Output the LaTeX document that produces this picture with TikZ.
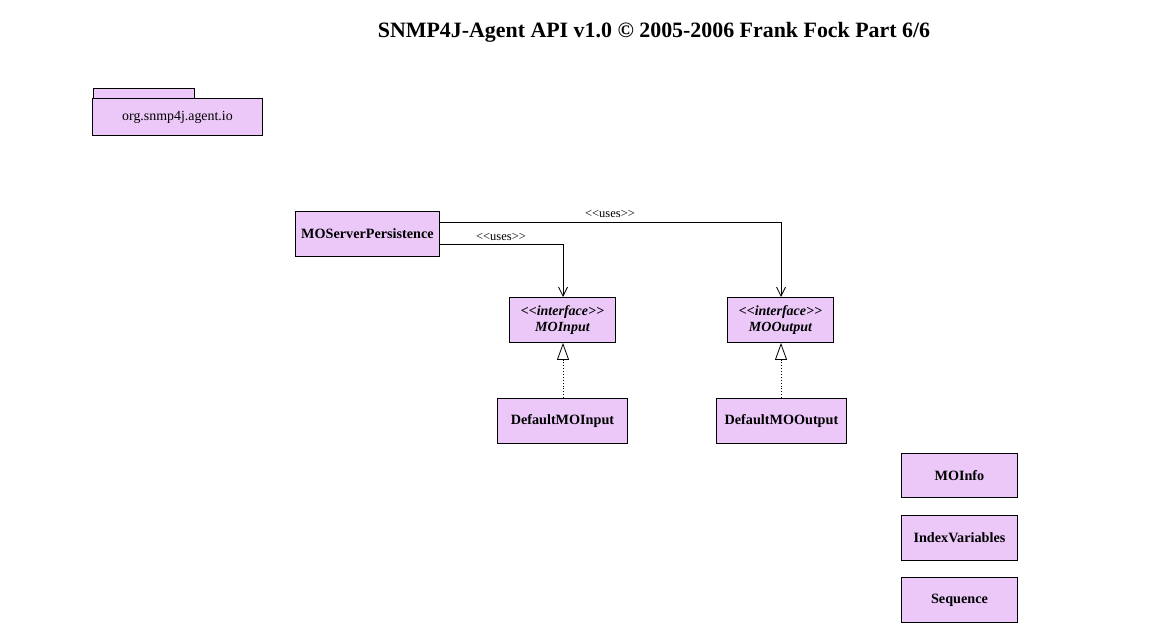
\documentclass[tikz,border=0pt]{standalone}
\usepackage{fontspec}
\setmainfont{Liberation Serif}[Ligatures=TeXOff]
\usetikzlibrary{arrows.meta}
\definecolor{boxfill}{HTML}{EBC8F8}
\newcommand{\lt}{\char`\<\kern0pt}
\newcommand{\gt}{\char`\>\kern0pt}
\tikzset{
  cls/.style={draw=black, line width=0.9pt, fill=boxfill, inner sep=0pt, anchor=north west,
    font=\fontsize{14.2}{16}\selectfont\bfseries, align=center},
  ifc/.style={cls, font=\fontsize{14}{16}\selectfont\bfseries\itshape},
  lbl/.style={font=\fontsize{12.5}{14}\selectfont, inner sep=1pt},
  uses/.style={draw, line width=0.8pt, -{Straight Barb[length=9pt,width=9pt,line width=0.8pt]}},
  real/.style={draw, line width=0.9pt, dotted, -{Triangle[open,length=17pt,width=12pt,line width=0.8pt]}},
}
\begin{document}
\begin{tikzpicture}[x=1pt,y=-1pt]
\useasboundingbox (0,0) rectangle (1155,623);
\node[font=\fontsize{21.9}{25}\selectfont\bfseries] (title) at (654,32) {SNMP4J-Agent API v1.0 © 2005-2006 Frank Fock Part 6/6};
% package
\draw[line width=0.9pt, fill=boxfill] (93,88) rectangle (194,98);
\node[cls, minimum width=170pt, minimum height=37pt, font=\fontsize{13.9}{15}\selectfont] (pkg) at (92,98) {org.snmp4j.agent.io};
% classes
\node[cls, minimum width=144pt, minimum height=45pt] (msp) at (295,211) {MOServerPersistence};
\node[ifc, minimum width=106pt, minimum height=45pt] (mi) at (509,297) {\lt\lt interface\gt\gt\\MOInput};
\node[ifc, minimum width=106pt, minimum height=45pt] (mo) at (727,297) {\lt\lt interface\gt\gt\\MOOutput};
\node[cls, minimum width=130pt, minimum height=45pt] (dmi) at (497,398) {DefaultMOInput};
\node[cls, minimum width=130pt, minimum height=45pt] (dmo) at (716,398) {DefaultMOOutput};
\node[cls, minimum width=116pt, minimum height=44pt] (info) at (901,453) {MOInfo};
\node[cls, minimum width=116pt, minimum height=45pt] (iv) at (901,515) {IndexVariables};
\node[cls, minimum width=116pt, minimum height=45pt] (seq) at (901,577) {Sequence};
% connectors
\coordinate (c1) at (781,222);
\coordinate (c2) at (563,244);
\draw[uses] (msp.east |- c1) -- (c1) -- (mo.north -| c1);
\draw[uses] (msp.east |- c2) -- (c2) -- (mi.north -| c2);
\node[lbl] (l1) at (610,214) {\lt\lt uses\gt\gt};
\node[lbl] (l2) at (501,237) {\lt\lt uses\gt\gt};
\draw[real] (dmi.north -| c2) -- (mi.south -| c2);
\draw[real] (dmo.north -| c1) -- (mo.south -| c1);
\end{tikzpicture}
\end{document}
